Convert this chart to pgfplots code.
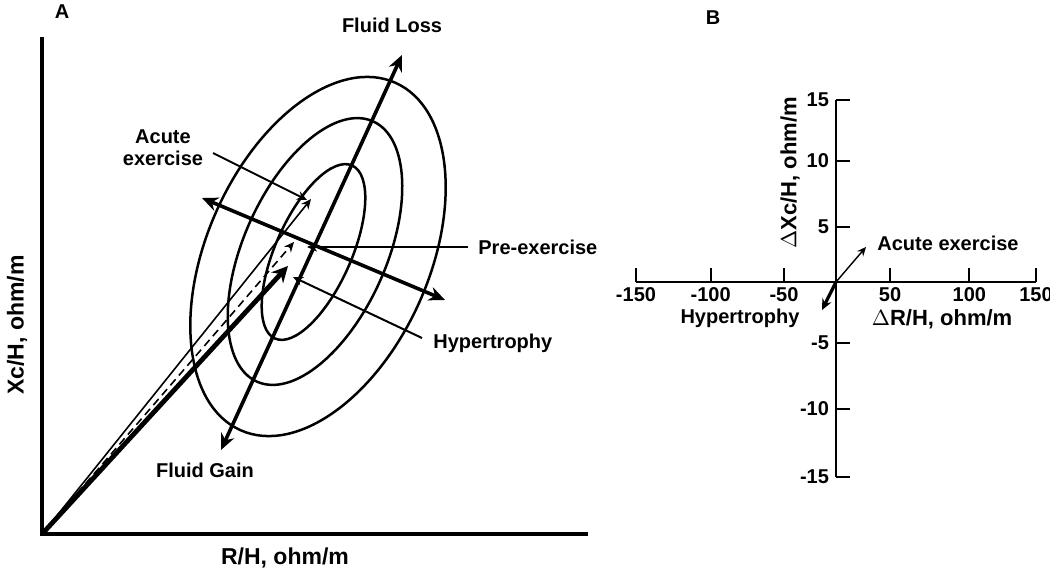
\documentclass[border=0pt]{standalone}
\usepackage{fontspec}
\setmainfont{Liberation Sans}
\usepackage{pgfplots}
\pgfplotsset{compat=1.18}
\usetikzlibrary{arrows.meta}
\begin{document}
\begin{tikzpicture}
\useasboundingbox (0,0) rectangle (525pt,287.5pt);
% ---------------- Panel A (pixel-like coordinates, y up) ----------------
\begin{axis}[
  at={(0pt,0pt)}, anchor=south west,
  x={(0.5pt,0)}, y={(0,0.5pt)},
  xmin=0, xmax=1050, ymin=0, ymax=575,
  hide axis, clip=false,
]
% axes
\addplot[line width=2pt, line join=miter] coordinates {(42,538) (42,41) (588,41)};
% ellipses
\draw[line width=1.25pt, rotate around={66:(axis cs:318,318.5)}] (axis cs:318,318.5) ellipse [x radius=95.1pt, y radius=55.6pt];
\draw[line width=1.25pt, rotate around={66:(axis cs:315,323.5)}] (axis cs:315,323.5) ellipse [x radius=71.25pt, y radius=35.7pt];
\draw[line width=1.25pt, rotate around={66:(axis cs:313.5,323)}] (axis cs:313.5,323) ellipse [x radius=47.35pt, y radius=18.95pt];
% fluid loss / gain
\addplot[line width=1.8pt, {Stealth[length=8pt,width=7pt]}-{Stealth[length=8pt,width=7pt]}] coordinates {(221,125) (402,520)};
% cross arrow
\addplot[line width=1.8pt, {Stealth[length=8pt,width=7pt]}-{Stealth[length=8pt,width=7pt]}] coordinates {(202,377) (445,275)};
% pointers
\addplot[line width=1pt, -{Stealth[length=5pt,width=4.5pt]}] coordinates {(468,328) (307,328)};
\addplot[line width=1pt, -{Stealth[length=5pt,width=4.5pt]}] coordinates {(422,237) (293,298)};
\addplot[line width=1pt, -{Stealth[length=5pt,width=4.5pt]}] coordinates {(213,422) (307,375)};
% vectors from origin
\addplot[line width=0.8pt, -{Stealth[length=5pt,width=4.5pt]}] coordinates {(43,42) (311,376)};
\addplot[line width=0.8pt, dash pattern=on 4pt off 2.5pt, -{Stealth[length=5pt,width=4.5pt]}] coordinates {(43,42) (294,333)};
\addplot[line width=2.4pt, -{Stealth[length=8pt,width=8pt]}] coordinates {(43,42) (288,309)};
% texts
\node[font=\bfseries] at (axis cs:62,563) {A};
\node[font=\bfseries] at (axis cs:392,550) {Fluid Loss};
\node[font=\bfseries, align=center] at (axis cs:163,427) {Acute\\[-1pt]exercise};
\node[font=\bfseries, anchor=west, inner sep=0pt] at (axis cs:478,328) {Pre-exercise};
\node[font=\bfseries, anchor=west, inner sep=0pt] at (axis cs:433,232) {Hypertrophy};
\node[font=\bfseries] at (axis cs:205,105) {Fluid Gain};
\node[font=\fontsize{11.5}{14}\bfseries\selectfont] at (axis cs:285,17) {R/H, ohm/m};
\node[font=\fontsize{11.5}{14}\bfseries\selectfont, rotate=90] at (axis cs:17,250) {Xc/H, ohm/m};
\end{axis}
% ---------------- Panel B ----------------
\begin{axis}[
  at={(418pt,146.5pt)}, anchor=origin,
  x={(0.66667pt,0)}, y={(0,6.065pt)},
  xmin=-150, xmax=150, ymin=-16.08, ymax=15,
  axis lines=middle, axis line style={-, line width=0.9pt},
  clip=false,
  xtick={-150,-94,-39,40.5,100,150},
  xticklabels={-150,-100,-50,50,100,150},
  ytick={-16.08,-10.47,-5,4.53,10,15},
  yticklabels={-15,-10,-5,5,10,15},
  tick align=inside,
  major tick length=7pt,
  every tick/.style={black, line width=0.9pt},
  tick label style={font=\bfseries},
  xticklabel style={yshift=1pt},
]
\addplot[line width=0.7pt, -{Stealth[length=4.5pt,width=4pt]}] coordinates {(0,0) (22.5,2.89)};
\addplot[line width=1.6pt, -{Stealth[length=5.5pt,width=5pt]}] coordinates {(0,0) (-10.5,-2.31)};
\node[font=\bfseries, anchor=west, inner sep=0pt] at (axis cs:30.75,3.2) {Acute exercise};
\node[font=\bfseries] at (axis cs:-72,-3.0) {Hypertrophy};
\node[font=\fontsize{11}{13}\bfseries\selectfont] at (axis cs:79.5,-3.1) {$\Delta$R/H, ohm/m};
\node[font=\fontsize{11}{13}\bfseries\selectfont, rotate=90] at (axis cs:-34.5,9.0) {$\Delta$Xc/H, ohm/m};
\node[font=\bfseries] at (axis cs:-92.25,21.76) {B};
\end{axis}
\end{tikzpicture}
\end{document}
